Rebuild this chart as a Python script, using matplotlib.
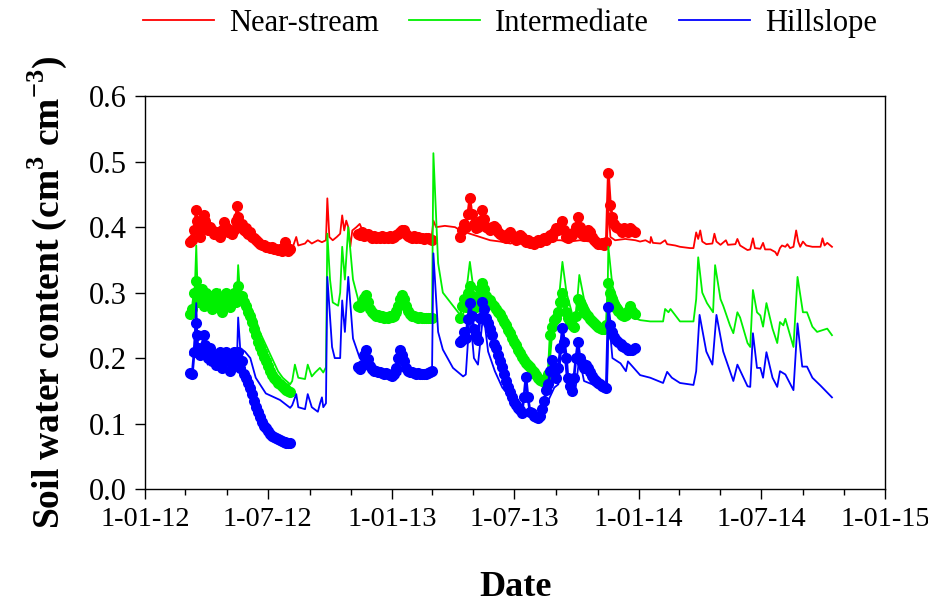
import numpy as np
import matplotlib
matplotlib.use("Agg")
import matplotlib.pyplot as plt
import matplotlib.dates as mdates
from matplotlib.ticker import FuncFormatter, MultipleLocator

plt.rcParams['font.family'] = ['Liberation Serif', 'DejaVu Serif']
plt.rcParams['mathtext.fontset'] = 'custom'
plt.rcParams['mathtext.rm'] = 'Liberation Serif'
plt.rcParams['mathtext.bf'] = 'Liberation Serif:bold'

# ---------------- DATA (days since 1 Jan 2012) ----------------

labels = ["Near-stream", "Intermediate", "Hillslope"]
colors = ["#ff0000", "#00f000", "#0000ff"]

# simulated series
ns_sim_day = [67, 70, 77, 81, 89, 96, 105, 111, 118, 126, 138, 148, 163, 178, 193, 204, 212, 215, 219, 224,
              227, 237, 241, 247, 256, 262, 268, 270, 273, 278, 284, 289, 292, 295, 298, 301, 304, 307, 313, 318,
              324, 333, 348, 363, 378, 385, 392, 407, 419, 424, 427, 431, 444, 459, 467, 481, 496, 511, 526, 541,
              555, 570, 585, 600, 615, 629, 644, 659, 674, 684, 686, 689, 696, 711, 726, 733, 741, 748, 749, 752,
              763, 770, 773, 785, 792, 807, 812, 816, 819, 822, 825, 831, 840, 843, 846, 852, 860, 863, 874, 877,
              881, 892, 896, 900, 903, 911, 915, 918, 926, 933, 936, 940, 943, 948, 951, 955, 960, 964, 967, 970,
              974, 979, 988, 1000, 1003, 1006, 1010, 1017]
ns_sim = [0.385, 0.390, 0.400, 0.390, 0.395, 0.390, 0.390, 0.385, 0.390, 0.385, 0.395, 0.385, 0.380, 0.375, 0.370,
          0.368, 0.376, 0.370, 0.370, 0.385, 0.372, 0.375, 0.380, 0.375, 0.380, 0.377, 0.380, 0.444, 0.385, 0.380,
          0.385, 0.390, 0.418, 0.395, 0.410, 0.400, 0.370, 0.395, 0.400, 0.405, 0.390, 0.385, 0.385, 0.387, 0.385,
          0.390, 0.385, 0.383, 0.385, 0.380, 0.410, 0.400, 0.402, 0.400, 0.395, 0.390, 0.385, 0.380, 0.378, 0.375,
          0.378, 0.375, 0.378, 0.380, 0.380, 0.378, 0.380, 0.378, 0.377, 0.380, 0.430, 0.385, 0.380, 0.382, 0.380,
          0.378, 0.380, 0.376, 0.385, 0.376, 0.375, 0.380, 0.374, 0.372, 0.370, 0.368, 0.368, 0.392, 0.382, 0.395,
          0.378, 0.374, 0.375, 0.390, 0.378, 0.373, 0.380, 0.373, 0.374, 0.382, 0.372, 0.365, 0.366, 0.383, 0.368,
          0.367, 0.376, 0.366, 0.366, 0.362, 0.357, 0.368, 0.372, 0.370, 0.374, 0.368, 0.370, 0.395, 0.378, 0.370,
          0.378, 0.372, 0.370, 0.370, 0.383, 0.372, 0.376, 0.370]

im_sim_day = [67, 73, 76, 78, 81, 84, 87, 90, 93, 99, 105, 111, 117, 123, 129, 135, 136, 138, 141, 148,
              156, 164, 170, 179, 188, 197, 204, 215, 218, 222, 227, 237, 241, 247, 252, 259, 264, 268, 270, 274,
              278, 286, 289, 292, 296, 301, 308, 318, 327, 336, 348, 363, 378, 384, 392, 407, 422, 425, 427, 434,
              441, 456, 469, 472, 481, 487, 493, 501, 511, 526, 538, 549, 558, 567, 578, 588, 597, 603, 609, 618,
              624, 637, 643, 650, 668, 684, 686, 692, 701, 711, 723, 733, 748, 767, 770, 775, 778, 792, 812, 816,
              819, 825, 832, 841, 844, 852, 856, 866, 871, 877, 881, 892, 896, 900, 906, 911, 915, 920, 929, 936,
              940, 945, 948, 955, 960, 966, 974, 980, 988, 995, 1010, 1017]
im_sim = [0.270, 0.280, 0.372, 0.300, 0.285, 0.300, 0.280, 0.305, 0.285, 0.300, 0.280, 0.305, 0.275, 0.300, 0.285,
          0.300, 0.290, 0.342, 0.295, 0.290, 0.280, 0.260, 0.240, 0.220, 0.200, 0.180, 0.170, 0.160, 0.165, 0.190,
          0.170, 0.168, 0.190, 0.172, 0.178, 0.185, 0.178, 0.186, 0.390, 0.320, 0.285, 0.280, 0.300, 0.370, 0.320,
          0.400, 0.320, 0.280, 0.290, 0.270, 0.262, 0.260, 0.265, 0.295, 0.270, 0.262, 0.260, 0.265, 0.513, 0.345,
          0.300, 0.280, 0.263, 0.270, 0.347, 0.300, 0.290, 0.315, 0.285, 0.270, 0.245, 0.225, 0.200, 0.182, 0.166,
          0.162, 0.165, 0.240, 0.250, 0.347, 0.300, 0.250, 0.327, 0.290, 0.250, 0.245, 0.370, 0.310, 0.285, 0.270,
          0.262, 0.258, 0.256, 0.256, 0.275, 0.270, 0.275, 0.256, 0.256, 0.290, 0.354, 0.300, 0.284, 0.270, 0.342,
          0.290, 0.280, 0.250, 0.238, 0.270, 0.262, 0.223, 0.217, 0.304, 0.270, 0.265, 0.248, 0.284, 0.245, 0.223,
          0.255, 0.250, 0.260, 0.235, 0.217, 0.324, 0.270, 0.270, 0.248, 0.240, 0.245, 0.235]

hs_sim_day = [67, 73, 76, 78, 81, 87, 93, 99, 105, 111, 117, 123, 129, 135, 136, 138, 141, 148, 156, 164,
              179, 200, 215, 218, 224, 227, 237, 241, 247, 256, 259, 262, 264, 268, 270, 277, 281, 289, 292, 296,
              301, 308, 318, 330, 348, 363, 378, 384, 392, 407, 422, 425, 427, 434, 441, 456, 471, 475, 481, 487,
              493, 501, 508, 518, 529, 541, 555, 567, 579, 588, 597, 606, 612, 618, 624, 637, 643, 650, 662, 677,
              684, 686, 692, 704, 712, 715, 721, 733, 748, 767, 773, 780, 792, 812, 816, 821, 831, 840, 846, 856,
              871, 877, 892, 896, 900, 906, 911, 915, 920, 929, 936, 940, 948, 960, 966, 973, 980, 988, 1000, 1017]
hs_sim = [0.205, 0.215, 0.284, 0.220, 0.200, 0.210, 0.190, 0.205, 0.190, 0.210, 0.185, 0.205, 0.190, 0.200, 0.190,
          0.262, 0.215, 0.210, 0.200, 0.170, 0.146, 0.136, 0.124, 0.128, 0.145, 0.125, 0.122, 0.145, 0.125, 0.118,
          0.130, 0.140, 0.125, 0.131, 0.324, 0.217, 0.200, 0.200, 0.288, 0.240, 0.324, 0.230, 0.200, 0.185, 0.178,
          0.175, 0.175, 0.200, 0.180, 0.174, 0.172, 0.180, 0.360, 0.240, 0.213, 0.185, 0.172, 0.175, 0.270, 0.200,
          0.190, 0.270, 0.210, 0.180, 0.155, 0.140, 0.125, 0.115, 0.110, 0.112, 0.135, 0.155, 0.160, 0.240, 0.175,
          0.150, 0.200, 0.165, 0.160, 0.150, 0.150, 0.270, 0.200, 0.192, 0.180, 0.195, 0.188, 0.174, 0.170, 0.162,
          0.179, 0.170, 0.162, 0.159, 0.180, 0.266, 0.210, 0.190, 0.266, 0.210, 0.165, 0.190, 0.157, 0.156, 0.238,
          0.185, 0.185, 0.170, 0.209, 0.170, 0.156, 0.180, 0.175, 0.151, 0.253, 0.187, 0.187, 0.170, 0.158, 0.140]

# observed series, three measurement periods (same days for all sites)
obs1_day = [67, 70, 73, 76, 77, 78, 81, 84, 87, 89, 90, 93, 96, 99, 102, 105, 108, 111, 114, 117,
            120, 123, 126, 129, 132, 135, 136, 138, 141, 144, 147, 150, 153, 156, 158, 161, 164, 167, 170, 173,
            176, 179, 182, 185, 188, 191, 194, 197, 200, 203, 206, 207, 209, 212, 215]
ns_obs1 = [0.377, 0.380, 0.395, 0.426, 0.410, 0.395, 0.385, 0.400, 0.418, 0.410, 0.400, 0.395, 0.400, 0.395, 0.390,
           0.393, 0.388, 0.385, 0.395, 0.408, 0.400, 0.392, 0.395, 0.390, 0.395, 0.410, 0.433, 0.415, 0.400, 0.405,
           0.395, 0.398, 0.390, 0.392, 0.385, 0.383, 0.380, 0.377, 0.375, 0.372, 0.373, 0.370, 0.370, 0.368, 0.369,
           0.366, 0.367, 0.365, 0.366, 0.364, 0.368, 0.378, 0.370, 0.364, 0.366]
im_obs1 = [0.268, 0.275, 0.300, 0.318, 0.300, 0.285, 0.295, 0.305, 0.280, 0.290, 0.300, 0.285, 0.295, 0.275, 0.290,
           0.300, 0.280, 0.290, 0.270, 0.295, 0.300, 0.285, 0.278, 0.295, 0.300, 0.285, 0.300, 0.310, 0.290, 0.295,
           0.285, 0.280, 0.270, 0.265, 0.255, 0.245, 0.235, 0.225, 0.217, 0.210, 0.202, 0.195, 0.188, 0.180, 0.174,
           0.170, 0.166, 0.162, 0.160, 0.157, 0.155, 0.154, 0.152, 0.150, 0.148]
hs_obs1 = [0.177, 0.175, 0.210, 0.253, 0.235, 0.215, 0.205, 0.215, 0.235, 0.220, 0.210, 0.200, 0.215, 0.195, 0.205,
           0.190, 0.200, 0.210, 0.185, 0.205, 0.210, 0.195, 0.180, 0.205, 0.210, 0.190, 0.200, 0.210, 0.185, 0.195,
           0.175, 0.170, 0.162, 0.155, 0.145, 0.135, 0.125, 0.118, 0.110, 0.103, 0.097, 0.093, 0.088, 0.084, 0.081,
           0.079, 0.078, 0.076, 0.075, 0.073, 0.072, 0.072, 0.071, 0.071, 0.070]

obs2_day = [315, 318, 321, 324, 327, 330, 333, 336, 339, 342, 345, 348, 351, 354, 357, 360, 363, 366, 369, 372,
            375, 378, 381, 384, 387, 390, 392, 395, 398, 401, 404, 407, 410, 413, 416, 419, 422, 425]
ns_obs2 = [0.390, 0.388, 0.392, 0.386, 0.388, 0.390, 0.386, 0.384, 0.386, 0.383, 0.385, 0.384, 0.386, 0.383, 0.385,
           0.384, 0.386, 0.383, 0.385, 0.388, 0.390, 0.393, 0.396, 0.395, 0.390, 0.386, 0.385, 0.384, 0.386, 0.383,
           0.385, 0.383, 0.384, 0.382, 0.384, 0.383, 0.382, 0.380]
im_obs2 = [0.280, 0.278, 0.285, 0.292, 0.296, 0.285, 0.275, 0.270, 0.268, 0.265, 0.266, 0.263, 0.264, 0.262, 0.263,
           0.262, 0.264, 0.263, 0.265, 0.272, 0.280, 0.290, 0.296, 0.290, 0.280, 0.272, 0.268, 0.265, 0.264, 0.263,
           0.262, 0.263, 0.262, 0.261, 0.262, 0.261, 0.262, 0.262]
hs_obs2 = [0.186, 0.183, 0.190, 0.205, 0.212, 0.198, 0.188, 0.183, 0.181, 0.180, 0.178, 0.179, 0.177, 0.176, 0.177,
           0.175, 0.174, 0.173, 0.175, 0.185, 0.200, 0.213, 0.205, 0.195, 0.185, 0.181, 0.179, 0.178, 0.177, 0.176,
           0.177, 0.175, 0.176, 0.175, 0.176, 0.177, 0.178, 0.180]

obs3_day = [467, 469, 472, 475, 478, 481, 484, 487, 490, 493, 496, 499, 502, 505, 508, 511, 514, 517, 520, 523,
            526, 529, 532, 535, 538, 541, 544, 546, 549, 552, 555, 558, 561, 564, 567, 570, 573, 576, 579, 582,
            585, 588, 591, 594, 597, 600, 603, 606, 609, 612, 615, 618, 621, 624, 626, 629, 632, 635, 638, 641,
            644, 647, 650, 653, 656, 659, 662, 665, 668, 671, 674, 677, 680, 683, 686, 689, 692, 695, 698, 701,
            704, 706, 709, 712, 715, 718, 721, 726]
ns_obs3 = [0.385, 0.395, 0.405, 0.400, 0.420, 0.444, 0.420, 0.405, 0.398, 0.400, 0.410, 0.426, 0.412, 0.400, 0.398,
           0.395, 0.400, 0.402, 0.398, 0.392, 0.390, 0.388, 0.385, 0.383, 0.390, 0.392, 0.388, 0.384, 0.380, 0.382,
           0.388, 0.385, 0.380, 0.378, 0.380, 0.376, 0.378, 0.375, 0.377, 0.380, 0.378, 0.381, 0.383, 0.380, 0.385,
           0.388, 0.385, 0.392, 0.398, 0.395, 0.400, 0.410, 0.395, 0.385, 0.383, 0.390, 0.388, 0.392, 0.400, 0.415,
           0.400, 0.390, 0.386, 0.390, 0.395, 0.393, 0.385, 0.380, 0.378, 0.375, 0.374, 0.376, 0.373, 0.378, 0.482,
           0.434, 0.415, 0.405, 0.400, 0.398, 0.395, 0.392, 0.398, 0.396, 0.393, 0.398, 0.395, 0.393]
im_obs3 = [0.262, 0.280, 0.290, 0.278, 0.300, 0.310, 0.295, 0.285, 0.278, 0.290, 0.305, 0.315, 0.305, 0.295, 0.290,
           0.288, 0.283, 0.280, 0.275, 0.270, 0.268, 0.262, 0.255, 0.250, 0.243, 0.238, 0.230, 0.225, 0.220, 0.213,
           0.208, 0.202, 0.197, 0.193, 0.190, 0.186, 0.182, 0.178, 0.174, 0.170, 0.167, 0.165, 0.166, 0.168, 0.175,
           0.235, 0.248, 0.258, 0.262, 0.270, 0.285, 0.300, 0.285, 0.270, 0.262, 0.255, 0.250, 0.248, 0.265, 0.290,
           0.285, 0.278, 0.272, 0.268, 0.264, 0.260, 0.256, 0.253, 0.250, 0.248, 0.246, 0.245, 0.244, 0.250, 0.315,
           0.300, 0.290, 0.282, 0.276, 0.272, 0.268, 0.266, 0.264, 0.266, 0.272, 0.280, 0.272, 0.268]
hs_obs3 = [0.225, 0.228, 0.240, 0.230, 0.260, 0.284, 0.265, 0.245, 0.235, 0.228, 0.262, 0.285, 0.275, 0.262, 0.253,
           0.245, 0.235, 0.222, 0.215, 0.205, 0.195, 0.186, 0.176, 0.165, 0.156, 0.148, 0.140, 0.133, 0.128, 0.124,
           0.120, 0.116, 0.140, 0.171, 0.140, 0.118, 0.116, 0.112, 0.110, 0.108, 0.112, 0.123, 0.135, 0.151, 0.160,
           0.180, 0.197, 0.185, 0.170, 0.185, 0.215, 0.246, 0.225, 0.200, 0.170, 0.158, 0.150, 0.170, 0.200, 0.224,
           0.200, 0.192, 0.185, 0.190, 0.185, 0.178, 0.172, 0.168, 0.165, 0.162, 0.160, 0.158, 0.156, 0.155, 0.278,
           0.250, 0.240, 0.232, 0.228, 0.225, 0.222, 0.219, 0.217, 0.215, 0.213, 0.212, 0.213, 0.215]

# ---------------- HELPERS ----------------

start = np.datetime64("2012-01-01")


def to_date(days):
    return start + np.array(days).astype("timedelta64[D]")


def date_label(x, pos):
    d = mdates.num2date(x)
    return f"{d.day}-{d.month:02d}-{d.year % 100:02d}"


# ---------------- PLOT ----------------

fig = plt.figure(figsize=(9.29, 6.09), dpi=100)
ax = fig.add_axes([0.156, 0.197, 0.797, 0.645])

sims = [(ns_sim_day, ns_sim), (im_sim_day, im_sim), (hs_sim_day, hs_sim)]
obs = [
    [(obs1_day, ns_obs1), (obs2_day, ns_obs2), (obs3_day, ns_obs3)],
    [(obs1_day, im_obs1), (obs2_day, im_obs2), (obs3_day, im_obs3)],
    [(obs1_day, hs_obs1), (obs2_day, hs_obs2), (obs3_day, hs_obs3)],
]

handles = []
for i in range(3):
    for d, v in obs[i]:
        ax.plot(to_date(d), v, color=colors[i], lw=2.0, marker="o", ms=8,
                markeredgewidth=0, zorder=2 + 2 * i)
    line, = ax.plot(to_date(sims[i][0]), sims[i][1], color=colors[i], lw=1.3, zorder=3 + 2 * i)
    handles.append(line)

ax.set_xlim(np.datetime64("2012-01-01"), np.datetime64("2015-01-01"))
ax.set_ylim(0, 0.6)

ax.xaxis.set_major_locator(mdates.MonthLocator(bymonth=[1, 7]))
ax.xaxis.set_minor_locator(mdates.MonthLocator(bymonth=[3, 5, 9, 11]))
ax.xaxis.set_major_formatter(FuncFormatter(date_label))
ax.yaxis.set_major_locator(MultipleLocator(0.1))
ax.yaxis.set_major_formatter(FuncFormatter(lambda y, p: f"{y:.1f}"))

ax.tick_params(axis="both", which="major", direction="out", length=7, width=1, pad=6)
ax.tick_params(axis="y", which="major", labelsize=22)
ax.tick_params(axis="x", which="major", labelsize=20.5)
ax.tick_params(axis="x", which="minor", direction="out", length=4, width=1)
for s in ax.spines.values():
    s.set_linewidth(1.0)

ax.set_xlabel("Date", fontsize=26, fontweight="bold", labelpad=28)
ax.set_ylabel(r"Soil water content (cm$^{\mathbf{3}}$ cm$^{\mathbf{-3}}$)", fontsize=27,
              fontweight="bold", labelpad=14)

fig.legend(handles, labels, loc="center", bbox_to_anchor=(0.549, 0.962), ncol=3, frameon=False,
           fontsize=22, handlelength=2.3, handletextpad=0.5, columnspacing=1.0)

plt.savefig("out.png", dpi=100)
